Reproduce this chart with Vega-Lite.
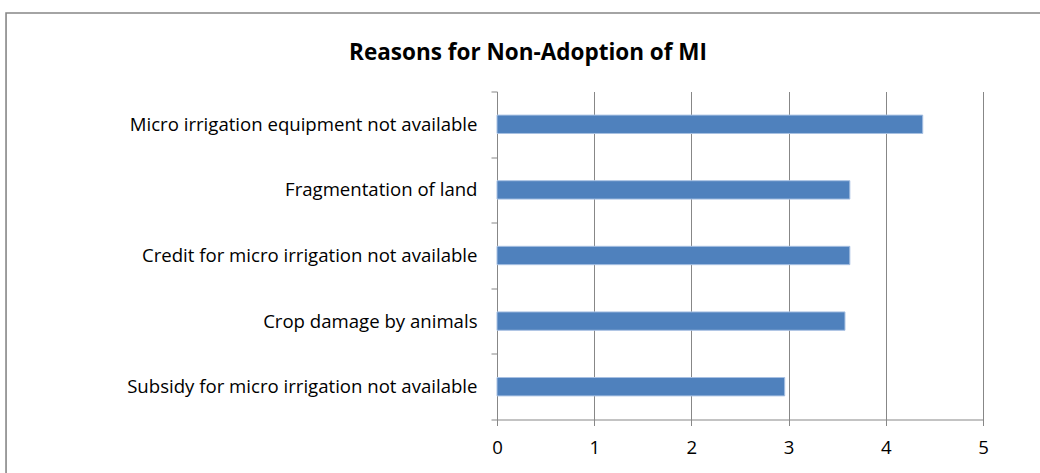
{
  "$schema": "https://vega.github.io/schema/vega-lite/v6.json",
  "width": 486,
  "height": 328,
  "autosize": {"type": "none"},
  "padding": {"left": 497, "top": 91.5, "right": 57, "bottom": 53.5},
  "background": "white",
  "title": {
    "text": "Reasons for Non-Adoption of MI",
    "font": "Open Sans",
    "fontSize": 22.5,
    "fontWeight": "bold",
    "color": "#000000",
    "anchor": "middle",
    "frame": "bounds",
    "baseline": "alphabetic",
    "offset": -70
  },
  "config": {
    "view": {"stroke": null},
    "axis": {
      "labelFont": "Open Sans",
      "labelFontSize": 18.6,
      "labelColor": "#000000",
      "labelLimit": 0,
      "domainColor": "#878787",
      "tickColor": "#878787",
      "gridColor": "#878787",
      "title": null
    }
  },
  "layer": [
    {
      "data": {"values": [{"frame": "chart area"}]},
      "mark": {"type": "rect", "filled": false, "stroke": "#878787", "strokeWidth": 1.6, "clip": false},
      "encoding": {
        "x": {"datum": -5.051, "type": "quantitative", "scale": {"domain": [0, 5], "nice": false, "zero": false}},
        "x2": {"datum": 5.69},
        "y": {"datum": 1.2393, "type": "quantitative", "scale": {"domain": [0, 1], "nice": false, "zero": false}, "axis": null},
        "y2": {"datum": -0.3}
      }
    },
    {
      "data": {
        "values": [
          {"reason": "Micro irrigation equipment not available", "value": 4.38},
          {"reason": "Fragmentation of land", "value": 3.63},
          {"reason": "Credit for micro irrigation not available", "value": 3.63},
          {"reason": "Crop damage by animals", "value": 3.58},
          {"reason": "Subsidy for micro irrigation not available", "value": 2.96}
        ]
      },
      "mark": {"type": "bar", "color": "#4F81BD", "stroke": "#A7C0E2", "strokeWidth": 1, "height": {"band": 0.28}},
      "encoding": {
        "y": {
          "field": "reason",
          "type": "nominal",
          "sort": null,
          "scale": {"paddingInner": 0, "paddingOuter": 0},
          "axis": {
            "tickBand": "extent",
            "tickSize": 6,
            "labelPadding": 14,
            "domain": true,
            "ticks": true,
            "grid": false
          }
        },
        "x": {
          "field": "value",
          "type": "quantitative",
          "scale": {"domain": [0, 5], "nice": false, "zero": false},
          "axis": {
            "values": [0, 1, 2, 3, 4, 5],
            "grid": true,
            "tickSize": 6,
            "labelPadding": 13,
            "labelFlush": false,
            "format": "d"
          }
        }
      }
    }
  ],
  "resolve": {"scale": {"y": "independent"}, "axis": {"y": "independent"}}
}
